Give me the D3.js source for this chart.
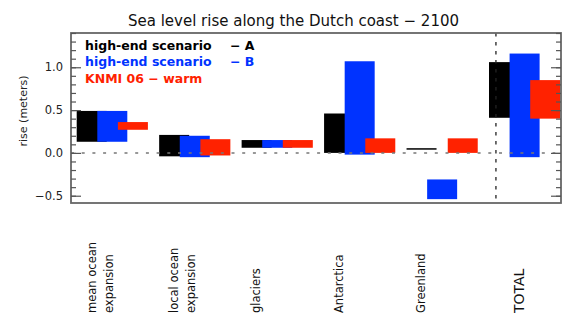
<!DOCTYPE html>
<html>
<head>
<meta charset="utf-8">
<script src="https://cdn.jsdelivr.net/npm/d3@7"></script>
<style>
  body { margin: 0; background: #fff; }
  text { font-family: "DejaVu Sans", sans-serif; }
</style>
</head>
<body>
<svg id="chart" width="563" height="316"></svg>
<script>
const categories = [['mean ocean', 'expansion'], ['local ocean', 'expansion'], ['glaciers'], ['Antarctica'], ['Greenland'], ['TOTAL']]
// [low, high] in meters for each category
const scenarioA = [[0.13, 0.49], [-0.04, 0.21], [0.06, 0.15], [0.0, 0.46], [0.04, 0.055], [0.41, 1.06]]
const scenarioB = [[0.13, 0.49], [-0.05, 0.20], [0.06, 0.15], [-0.02, 1.07], [-0.54, -0.31], [-0.05, 1.16]]
const knmiWarm = [[0.27, 0.36], [-0.03, 0.16], [0.06, 0.15], [0.0, 0.17], [0.0, 0.17], [0.40, 0.85]]
const yTicks = [-0.5, 0.0, 0.5, 1.0]
const seriesNames = [['high-end scenario', '\u2212 A'], ['high-end scenario', '\u2212 B'], ['KNMI 06 \u2212 warm', '']]

const colors = ['#000000', '#0033ff', '#ff2200']
const series = [scenarioA, scenarioB, knmiWarm]

const margin = { top: 33, right: 2, bottom: 113, left: 71 }
const width = 563
const height = 316
const plotRight = width - margin.right
const plotBottom = height - margin.bottom

const svg = d3.select('#chart')

const x = d3.scaleLinear() // group centres
  .domain([0, categories.length - 1])
  .range([112.5, 524.8])

const y = d3.scaleLinear()
  .domain([-0.585, 1.4])
  .range([plotBottom, margin.top])

const barW = 30
const barStep = 20.6

// bars, drawn black then blue then red so later ones sit on top
series.forEach((s, k) => {
  svg.append('g')
    .selectAll('rect')
    .data(s)
    .join('rect')
      .attr('x', (d, i) => x(i) - 35.8 + k * barStep)
      .attr('y', (d) => y(d[1]))
      .attr('width', barW)
      .attr('height', (d) => Math.max(1.5, y(d[0]) - y(d[1])))
      .attr('fill', colors[k])
})

// zero line
svg.append('line')
  .attr('x1', margin.left).attr('x2', plotRight)
  .attr('y1', y(0)).attr('y2', y(0))
  .attr('stroke', '#777')
  .attr('stroke-width', 1.5)
  .attr('stroke-dasharray', '3,7.7')

// separator before TOTAL
svg.append('line')
  .attr('x1', x(4.65)).attr('x2', x(4.65))
  .attr('y1', margin.top).attr('y2', plotBottom)
  .attr('stroke', '#222')
  .attr('stroke-width', 1.3)
  .attr('stroke-dasharray', '3.5,5.5')

// frame
svg.append('rect')
  .attr('x', margin.left).attr('y', margin.top)
  .attr('width', plotRight - margin.left)
  .attr('height', plotBottom - margin.top)
  .attr('fill', 'none')
  .attr('stroke', '#666')
  .attr('stroke-width', 1.8)

// y axes: ticks inward on both sides
const minor = d3.range(-5, 15).map((v) => v / 10)
svg.append('g')
  .attr('transform', `translate(${margin.left},0)`)
  .call(d3.axisRight(y).tickValues(minor).tickSize(5).tickFormat(''))
  .call((g) => g.select('.domain').remove())
svg.append('g')
  .attr('transform', `translate(${margin.left},0)`)
  .call(d3.axisRight(y).tickValues(yTicks).tickSize(10).tickFormat(''))
  .call((g) => g.select('.domain').remove())
svg.append('g')
  .attr('transform', `translate(${plotRight},0)`)
  .call(d3.axisLeft(y).tickValues(minor).tickSize(5).tickFormat(''))
  .call((g) => g.select('.domain').remove())
svg.append('g')
  .attr('transform', `translate(${plotRight},0)`)
  .call(d3.axisLeft(y).tickValues(yTicks).tickSize(10).tickFormat(''))
  .call((g) => g.select('.domain').remove())
svg.selectAll('.tick line').attr('stroke', '#555').attr('stroke-width', 1.2)

// y tick labels
svg.append('g')
  .selectAll('text')
  .data(yTicks)
  .join('text')
    .attr('x', margin.left - 8)
    .attr('y', (d) => y(d) + 4.2)
    .attr('text-anchor', 'end')
    .attr('font-size', 11.5)
    .attr('fill', '#222')
    .text((d) => d3.format('.1f')(d).replace('-', '\u2212'))

svg.append('text')
  .attr('transform', `translate(27,111) rotate(-90)`)
  .attr('text-anchor', 'middle')
  .attr('font-size', 11)
  .attr('fill', '#222')
  .text('rise (meters)')

// category labels, rotated
categories.forEach((lines, i) => {
  const last = i === categories.length - 1
  lines.forEach((line, j) => {
    let bx
    if (last) bx = x(i) - 1
    else if (lines.length === 2) bx = x(i) - 16.5 + j * 16.5
    else bx = x(i) - 17
    svg.append('text')
      .attr('transform', `translate(${bx},313) rotate(-90)`)
      .attr('font-size', last ? 14 : 11.5)
      .attr('fill', '#111')
      .text(line)
  })
})

// title
svg.append('text')
  .attr('x', 293.5).attr('y', 26)
  .attr('text-anchor', 'middle')
  .attr('font-size', 15)
  .attr('fill', '#111')
  .text('Sea level rise along the Dutch coast \u2212 2100')

// legend
seriesNames.forEach((nm, k) => {
  const ly = 49.5 + k * 16.5
  svg.append('text')
    .attr('x', 85).attr('y', ly)
    .attr('font-size', 12.5)
    .attr('font-weight', 'bold')
    .attr('fill', colors[k])
    .text(nm[0])
  if (nm[1]) {
    svg.append('text')
      .attr('x', 230).attr('y', ly)
      .attr('font-size', 12.5)
      .attr('font-weight', 'bold')
      .attr('fill', colors[k])
      .text(nm[1])
  }
})
</script>
</body>
</html>
